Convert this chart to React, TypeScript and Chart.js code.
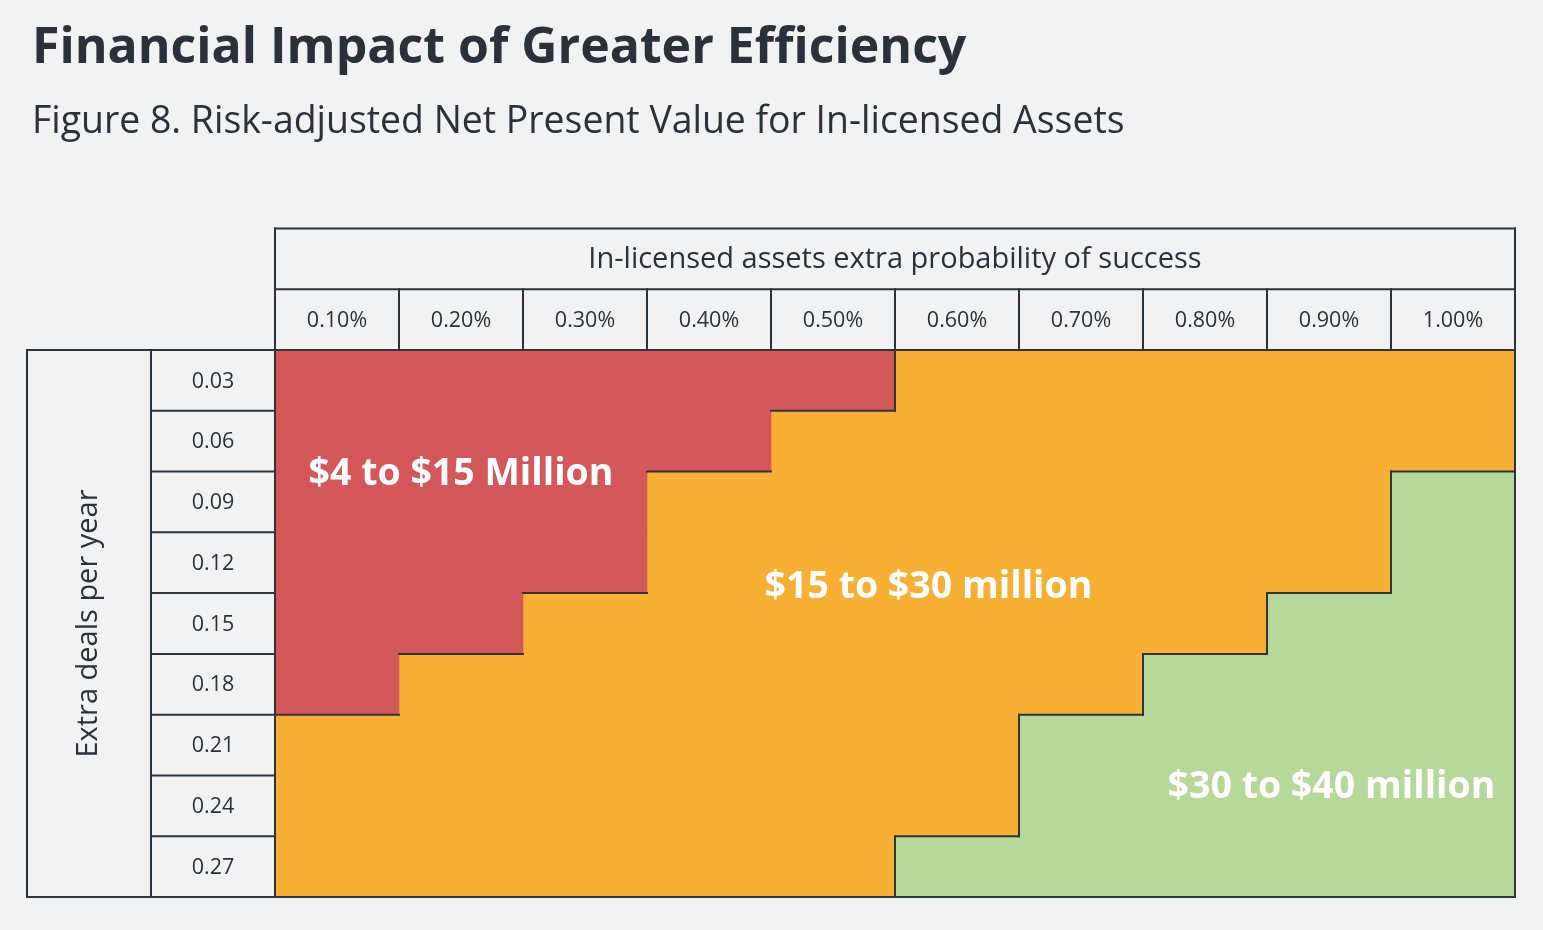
import React, { useEffect, useRef } from "react";
import { Chart, registerables } from "chart.js";

Chart.register(...registerables);

const TITLE = "Financial Impact of Greater Efficiency";
const SUBTITLE = "Figure 8. Risk-adjusted Net Present Value for In-licensed Assets";
const X_TITLE = "In-licensed assets extra probability of success";
const Y_TITLE = "Extra deals per year";

const colLabels = ["0.10%", "0.20%", "0.30%", "0.40%", "0.50%", "0.60%", "0.70%", "0.80%", "0.90%", "1.00%"];
const rowLabels = ["0.03", "0.06", "0.09", "0.12", "0.15", "0.18", "0.21", "0.24", "0.27"];

// number of columns (from the left) in the "$4 to $15 Million" band, per row
const lowBandCols = [5, 4, 3, 3, 2, 1, 0, 0, 0];
// first column of the "$30 to $40 million" band, per row
const highBandStart = [10, 10, 9, 9, 8, 7, 6, 6, 5];

const bandNames = ["$4 to $15 Million", "$15 to $30 million", "$30 to $40 million"];
const bandColors = ["#d4585a", "#f7b034", "#b6d99a"];
// label anchors: column units / row index
const bandLabelX = [1.5, 5.27, 8.52];
const bandLabelY = [1.54, 3.41, 6.7];

const BG = "#f2f2f2";
const INK = "#2b3039";
const LINE = "#2e343c";
const FONT = '"Open Sans", "Noto Sans", sans-serif';

const tablePlugin = {
  id: "tablePlugin",
  beforeDraw(chart: any) {
    const { ctx, width, height } = chart;
    ctx.save();
    ctx.fillStyle = BG;
    ctx.fillRect(0, 0, width, height);
    ctx.fillStyle = INK;
    ctx.textBaseline = "alphabetic";
    ctx.textAlign = "left";
    ctx.font = `bold 50px ${FONT}`;
    ctx.fillText(TITLE, 32, 63);
    ctx.font = `37.4px ${FONT}`;
    ctx.fillText(SUBTITLE, 32, 133);
    ctx.restore();
  },
  afterDatasetsDraw(chart: any) {
    const { ctx } = chart;
    const x = chart.scales.x;
    const y = chart.scales.y;
    const a = chart.chartArea;
    const colX = (v: number) => x.getPixelForValue(v);
    const colW = colX(1) - colX(0);
    const rowH = y.getPixelForValue(1) - y.getPixelForValue(0);
    const rowTop = (i: number) => y.getPixelForValue(i) - rowH / 2;
    const left = colX(0);
    const right = colX(10);
    const hdrTop = a.top - 2 * rowH;
    const hdrMid = a.top - rowH;

    ctx.save();
    ctx.strokeStyle = LINE;
    ctx.lineWidth = 2;
    ctx.lineCap = "square";
    const line = (x1: number, y1: number, x2: number, y2: number) => {
      ctx.beginPath();
      ctx.moveTo(x1, y1);
      ctx.lineTo(x2, y2);
      ctx.stroke();
    };

    // header block
    line(left, hdrTop, right, hdrTop);
    line(left, hdrMid, right, hdrMid);
    line(left, hdrTop, left, a.bottom);
    line(right, hdrTop, right, a.bottom);
    for (let i = 1; i < colLabels.length; i++) line(colX(i), hdrMid, colX(i), a.top);
    line(left - 2 * colW, a.top, right, a.top);
    line(left - 2 * colW, a.bottom, right, a.bottom);

    // left row-label block
    line(left - 2 * colW, a.top, left - 2 * colW, a.bottom);
    line(left - colW, a.top, left - colW, a.bottom);
    for (let i = 1; i < rowLabels.length; i++) line(left - colW, rowTop(i), left, rowTop(i));

    // band boundaries: low band
    for (let r = 0; r < rowLabels.length - 1; r++) {
      const a1 = lowBandCols[r];
      const a2 = lowBandCols[r + 1];
      if (a1 !== a2) line(colX(Math.min(a1, a2)), rowTop(r + 1), colX(Math.max(a1, a2)), rowTop(r + 1));
    }
    if (lowBandCols[0] > 0) line(colX(lowBandCols[0]), rowTop(0), colX(lowBandCols[0]), rowTop(1));

    // band boundaries: high band
    for (let r = 0; r < rowLabels.length; r++) {
      const s = highBandStart[r];
      if (s < colLabels.length) line(colX(s), rowTop(r), colX(s), rowTop(r) + rowH);
      if (r > 0) {
        const p = highBandStart[r - 1];
        if (p !== s) line(colX(Math.min(p, s)), rowTop(r), colX(Math.max(p, s)), rowTop(r));
      }
    }

    // texts
    ctx.fillStyle = INK;
    ctx.textAlign = "center";
    ctx.textBaseline = "middle";
    ctx.font = `29px ${FONT}`;
    ctx.fillText(X_TITLE, (left + right) / 2, (hdrTop + hdrMid) / 2 + 1);
    ctx.font = `21.5px ${FONT}`;
    colLabels.forEach((l, i) => ctx.fillText(l, colX(i + 0.5), (hdrMid + a.top) / 2 + 1));
    rowLabels.forEach((l, i) => ctx.fillText(l, left - colW / 2, y.getPixelForValue(i) + 1));

    ctx.save();
    ctx.translate(left - 1.5 * colW, (a.top + a.bottom) / 2);
    ctx.rotate(-Math.PI / 2);
    ctx.font = `29px ${FONT}`;
    ctx.fillText(Y_TITLE, 0, 0);
    ctx.restore();

    ctx.fillStyle = "#ffffff";
    ctx.font = `bold 37.5px ${FONT}`;
    bandNames.forEach((n, i) => ctx.fillText(n, colX(bandLabelX[i]), y.getPixelForValue(bandLabelY[i])));
    ctx.restore();
  },
};

export default function App() {
  const ref = useRef<HTMLCanvasElement>(null);
  useEffect(() => {
    const n = colLabels.length;
    const chart = new Chart(ref.current as HTMLCanvasElement, {
      type: "bar",
      data: {
        labels: rowLabels,
        datasets: [
          {
            label: bandNames[0],
            data: rowLabels.map((_, r) => [0, lowBandCols[r]]) as any,
            backgroundColor: bandColors[0],
          },
          {
            label: bandNames[1],
            data: rowLabels.map((_, r) => [lowBandCols[r], highBandStart[r]]) as any,
            backgroundColor: bandColors[1],
          },
          {
            label: bandNames[2],
            data: rowLabels.map((_, r) => [highBandStart[r], n]) as any,
            backgroundColor: bandColors[2],
          },
        ],
      },
      options: {
        indexAxis: "y",
        animation: false,
        responsive: false,
        devicePixelRatio: 1,
        layout: { padding: { left: 275, top: 350, right: 28, bottom: 33 } },
        datasets: {
          bar: {
            grouped: false,
            barPercentage: 1,
            categoryPercentage: 1,
            borderWidth: 0,
            borderSkipped: false,
          } as any,
        },
        scales: {
          x: { type: "linear", min: 0, max: n, display: false },
          y: { type: "category", display: false, offset: true },
        },
        plugins: {
          legend: { display: false },
          tooltip: { enabled: false },
          title: { display: false },
        },
      },
      plugins: [tablePlugin],
    });
    return () => chart.destroy();
  }, []);
  return (
    <div style={{ position: "absolute", left: 0, top: 0, width: 1543, height: 930, background: BG, overflow: "hidden" }}>
      <canvas ref={ref} width={1543} height={930} style={{ display: "block" }} />
    </div>
  );
}
